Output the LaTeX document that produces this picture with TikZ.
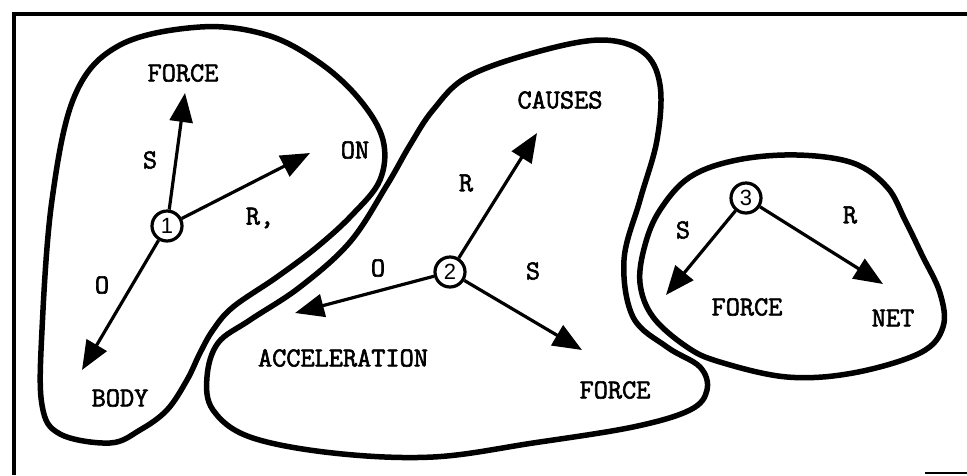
\documentclass[tikz,border=0pt]{standalone}
\usepackage{fontspec}
\newfontfamily\numfont{Liberation Sans}
\newfontfamily\twfont[FakeBold=2.2]{Latin Modern Mono}
\usetikzlibrary{arrows.meta}
\tikzset{
  blob/.style={line width=5.5pt, line join=round},
  frameline/.style={line width=3.5pt},
  arr/.style={line width=3.2pt, -{Triangle[length=29pt,width=23pt]}},
  conc/.style={circle, draw, line width=3.2pt, inner sep=0pt, minimum size=30pt, font=\numfont\fontsize{22}{24}\selectfont},
  lbl/.style={font=\twfont\fontsize{27.5}{30}\selectfont, inner sep=0pt},
}
\begin{document}
\begin{tikzpicture}[x=1pt,y=-1pt]
\useasboundingbox (0,0) rectangle (967,475);
% frame
\draw[frameline] (14,475) -- (14,14) -- (967,14);
\draw[line width=2pt] (925,473) -- (967,473);
% blob 1
\draw[blob] plot[smooth cycle, tension=0.6] coordinates {
 (200,27) (267,35) (320,63) (360,100) (383,140) (380,180) (352,215) (317,247) (277,277) (233,307) (213,330) (200,353) (187,380) (167,410) (140,430) (110,443) (60,434) (42,405) (42,330) (52,200) (75,95) (120,45)};
% blob 2
\draw[blob] plot[smooth cycle, tension=0.6] coordinates {
 (600,40) (643,52) (660,85) (657,140) (640,200) (624,260) (633,317) (667,347) (700,367) (707,390) (690,410) (633,427) (533,443) (433,457) (333,453) (250,437) (213,410) (207,377) (218,343) (250,320) (300,287) (350,242) (387,185) (410,145) (433,110) (467,77) (533,53)};
% blob 3
\draw[blob] plot[smooth cycle, tension=0.6] coordinates {
 (737,160) (797,155) (853,163) (887,187) (905,220) (922,255) (940,293) (943,327) (920,353) (853,373) (787,377) (720,362) (687,347) (653,317) (640,283) (645,245) (660,210) (690,177)};
% concept 1
\node[conc] (n1) at (167,226) {1};
\node[lbl] (force1) at (183,73) {FORCE};
\node[lbl] (on) at (355,150) {ON};
\node[lbl] (body) at (120,398) {BODY};
\node[lbl] (s1) at (150,160) {S};
\node[lbl] (r1) at (260,218) {R,};
\node[lbl] (o1) at (102,285) {O};
\coordinate (t1s) at (185,93);
\coordinate (t1r) at (310,153);
\coordinate (t1o) at (82,370);
\draw[arr] (n1) -- (t1s);
\draw[arr] (n1) -- (t1r);
\draw[arr] (n1) -- (t1o);
% concept 2
\node[conc] (n2) at (450,272) {2};
\node[lbl] (causes) at (560,100) {CAUSES};
\node[lbl] (accel) at (343,358) {ACCELERATION};
\node[lbl] (force2) at (615,390) {FORCE};
\node[lbl] (r2) at (466,183) {R};
\node[lbl] (o2) at (378,268) {O};
\node[lbl] (s2) at (533,271) {S};
\coordinate (t2r) at (537,133);
\coordinate (t2o) at (295,313);
\coordinate (t2s) at (582,350);
\draw[arr] (n2) -- (t2r);
\draw[arr] (n2) -- (t2o);
\draw[arr] (n2) -- (t2s);
% concept 3
\node[conc] (n3) at (746,198) {3};
\node[lbl] (force3) at (747,307) {FORCE};
\node[lbl] (net) at (893,318) {NET};
\node[lbl] (s3) at (683,230) {S};
\node[lbl] (r3) at (850,215) {R};
\coordinate (t3s) at (666,295);
\coordinate (t3r) at (883,284);
\draw[arr] (n3) -- (t3s);
\draw[arr] (n3) -- (t3r);
\end{tikzpicture}
\end{document}
